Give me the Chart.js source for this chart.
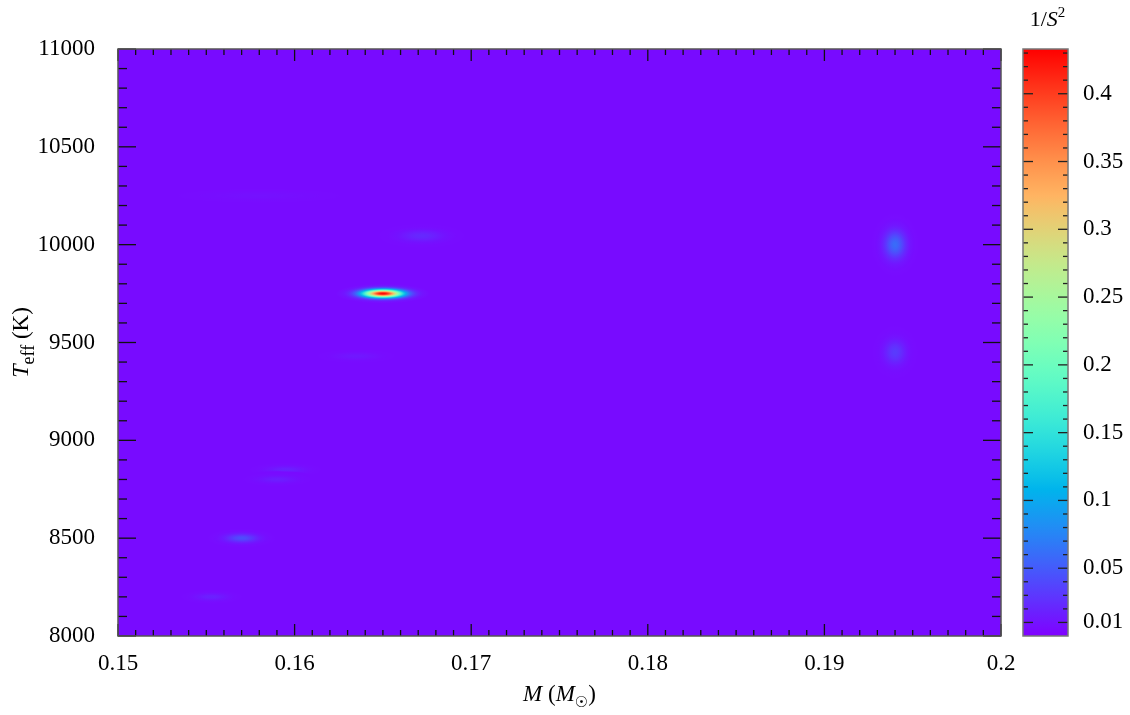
<!DOCTYPE html>
<html>
<head>
<meta charset="utf-8">
<script src="https://cdn.jsdelivr.net/npm/chart.js@4.4.0/dist/chart.umd.min.js"></script>
<style>
html,body{margin:0;padding:0;background:#fff;}
#wrap{position:relative;width:1130px;height:715px;overflow:hidden;}
#main{position:absolute;left:0;top:0;}
#bar{position:absolute;left:1005px;top:0;}
</style>
</head>
<body>
<div id="wrap">
  <canvas id="main" width="1130" height="715"></canvas>
  <canvas id="bar" width="125" height="715"></canvas>
</div>
<script>
// ticks
var xTicks=[0.15,0.16,0.17,0.18,0.19,0.2];
var xTickLabels=['0.15','0.16','0.17','0.18','0.19','0.2'];
var yTicks=[8000,8500,9000,9500,10000,10500,11000];
var yTickLabels=['8000','8500','9000','9500','10000','10500','11000'];
var cbTicks=[0.01,0.05,0.1,0.15,0.2,0.25,0.3,0.35,0.4];
var cbTickLabels=['0.01','0.05','0.1','0.15','0.2','0.25','0.3','0.35','0.4'];

// features of the 1/S^2 map: centre (M, Teff), peak, spread
var blobM =[0.165, 0.1672,0.194, 0.194, 0.157, 0.1595,0.159, 0.1553,0.1635,0.158];
var blobT =[9750,  10045, 10000, 9450,  8500,  8850,  8800,  8200,  9430,  10250];
var blobV =[0.43,  0.022, 0.06,  0.032, 0.042, 0.018, 0.016, 0.018, 0.013, 0.009];
var blobSM=[0.00075,0.0008,0.0004,0.0004,0.0006,0.0007,0.0007,0.0006,0.0008,0.002];
var blobST=[14,    20,    48,    42,    15,    12,    12,    12,    12,    15];
var baseV=0.006;   // level of the flat background
var cbMin=0, cbMax=0.433;

var serif='"Liberation Serif", "DejaVu Serif", serif';

function cmap(v){
    var x=(v-cbMin)/(cbMax-cbMin);
    x=Math.max(0,Math.min(1,x));
    var r=Math.min(1,Math.abs(2*x-0.5)), g=Math.sin(Math.PI*x), b=Math.cos(Math.PI*x/2);
    return 'rgb('+Math.round(r*255)+','+Math.round(g*255)+','+Math.round(b*255)+')';
}

function line(ctx,x1,y1,x2,y2){
    ctx.beginPath(); ctx.moveTo(x1,y1); ctx.lineTo(x2,y2); ctx.stroke();
}

// draws [text, font, dy] pieces centred on x
function runs(ctx,parts,x,y){
    var w=0;
    parts.forEach(function(p){ctx.font=p[1]; w+=ctx.measureText(p[0]).width;});
    var cx=x-w/2;
    ctx.textAlign='left'; ctx.textBaseline='alphabetic'; ctx.fillStyle='#000';
    parts.forEach(function(p){
        ctx.font=p[1]; ctx.fillText(p[0],cx,y+p[2]); cx+=ctx.measureText(p[0]).width;
    });
}

var points=[];
for(var i=0;i<blobM.length;i++){
    points.push({x:blobM[i],y:blobT[i],v:blobV[i],sm:blobSM[i],st:blobST[i]});
}

var heat={id:'heat',beforeDatasetsDraw:function(c){
    var ctx=c.ctx, a=c.chartArea, xs=c.scales.x, ys=c.scales.y;
    ctx.save();
    ctx.beginPath(); ctx.rect(a.left,a.top,a.right-a.left,a.bottom-a.top); ctx.clip();
    ctx.fillStyle=cmap(baseV);
    ctx.fillRect(a.left,a.top,a.right-a.left,a.bottom-a.top);
    c.data.datasets[0].data.forEach(function(p){
        var cx=xs.getPixelForValue(p.x), cy=ys.getPixelForValue(p.y);
        var rx=Math.abs(xs.getPixelForValue(p.x+3.5*p.sm)-cx);
        var ry=Math.abs(ys.getPixelForValue(p.y+3.5*p.st)-cy);
        ctx.save();
        ctx.translate(cx,cy); ctx.scale(rx,ry);
        var g=ctx.createRadialGradient(0,0,0,0,0,1);
        for(var k=0;k<=24;k++){
            var t=k/24, r=t*3.5;
            g.addColorStop(t,cmap(baseV+(p.v-baseV)*Math.exp(-r*r/2)));
        }
        ctx.fillStyle=g;
        ctx.beginPath(); ctx.arc(0,0,1,0,2*Math.PI); ctx.fill();
        ctx.restore();
    });
    ctx.restore();
}};

var frame={id:'frame',afterDraw:function(c){
    var ctx=c.ctx, a=c.chartArea, xs=c.scales.x, ys=c.scales.y;
    ctx.save();
    ctx.strokeStyle='#111'; ctx.lineWidth=1.3;
    for(var m=150;m<=200;m++){
        var px=xs.getPixelForValue(m/1000), L=(m%10===0)?12:6;
        line(ctx,px,a.bottom,px,a.bottom-L);
        line(ctx,px,a.top,px,a.top+L);
    }
    for(var t=8000;t<=11000;t+=100){
        var py=ys.getPixelForValue(t), L2=(t%500===0)?18:9;
        line(ctx,a.left,py,a.left+L2,py);
        line(ctx,a.right,py,a.right-L2,py);
    }
    ctx.strokeStyle='#555'; ctx.lineWidth=1.5;
    ctx.strokeRect(a.left,a.top,a.right-a.left,a.bottom-a.top);
    // axis titles
    var mid=(a.left+a.right)/2;
    runs(ctx,[['M','italic 23px '+serif,0],[' (','23px '+serif,0],['M','italic 23px '+serif,0],
              ['\u2609','15px "DejaVu Sans"',6],[')','23px '+serif,0]],mid,701);
    ctx.translate(28,(a.top+a.bottom)/2);
    ctx.rotate(-Math.PI/2);
    runs(ctx,[['T','italic 24px '+serif,0],['eff','18px '+serif,6],[' (K)','23px '+serif,0]],0,0);
    ctx.restore();
}};

new Chart(document.getElementById('main'),{
    type:'scatter',
    data:{datasets:[{data:points,pointRadius:0,pointHoverRadius:0,showLine:false}]},
    options:{
        responsive:false,animation:false,devicePixelRatio:1,
        layout:{padding:{left:0,top:49,right:129,bottom:0}},
        plugins:{legend:{display:false},tooltip:{enabled:false}},
        scales:{
            x:{type:'linear',min:0.15,max:0.2,
               afterBuildTicks:function(s){s.ticks=xTicks.map(function(v){return {value:v};});},
               afterFit:function(s){s.height=79;},
               grid:{display:false},border:{display:false},
               ticks:{autoSkip:false,maxRotation:0,minRotation:0,padding:6,color:'#000',
                      font:{family:serif,size:23},
                      callback:function(v,i){return xTickLabels[i];}}},
            y:{type:'linear',min:8000,max:11000,
               afterBuildTicks:function(s){s.ticks=yTicks.map(function(v){return {value:v};});},
               afterFit:function(s){s.width=118;},
               grid:{display:false},border:{display:false},
               ticks:{autoSkip:false,padding:15,color:'#000',
                      font:{family:serif,size:23},
                      callback:function(v,i){return yTickLabels[i];}}}
        }
    },
    plugins:[heat,frame]
});

var cbPaint={id:'cbPaint',beforeDatasetsDraw:function(c){
    var ctx=c.ctx, a=c.chartArea, ys=c.scales.y;
    var g=ctx.createLinearGradient(0,a.bottom,0,a.top);
    for(var k=0;k<=48;k++){
        var t=k/48;
        g.addColorStop(t,cmap(ys.getValueForPixel(a.bottom-t*(a.bottom-a.top))));
    }
    ctx.save();
    ctx.fillStyle=g;
    ctx.fillRect(a.left,a.top,a.right-a.left,a.bottom-a.top);
    ctx.restore();
},afterDraw:function(c){
    var ctx=c.ctx, a=c.chartArea, ys=c.scales.y;
    ctx.save();
    ctx.strokeStyle='#222'; ctx.lineWidth=1.3;
    for(var k=1;k<=43;k++){
        var v=k/100, py=ys.getPixelForValue(v);
        var major=cbTicks.some(function(t){return Math.abs(t-v)<1e-9;});
        var L=major?10:5;
        line(ctx,a.left,py,a.left+L,py);
        line(ctx,a.right,py,a.right-L,py);
    }
    ctx.strokeStyle='#777'; ctx.lineWidth=1.5;
    ctx.strokeRect(a.left,a.top,a.right-a.left,a.bottom-a.top);
    runs(ctx,[['1/','22px '+serif,0],['S','italic 22px '+serif,0],['2','15px '+serif,-9]],
         (a.left+a.right)/2+2,26);
    ctx.restore();
}};

new Chart(document.getElementById('bar'),{
    type:'scatter',
    data:{datasets:[{data:[],pointRadius:0}]},
    options:{
        responsive:false,animation:false,devicePixelRatio:1,
        layout:{padding:{left:18,top:49,right:0,bottom:79}},
        plugins:{legend:{display:false},tooltip:{enabled:false}},
        scales:{
            x:{display:false,min:0,max:1},
            y:{type:'linear',position:'right',min:cbMin,max:cbMax,
               afterBuildTicks:function(s){s.ticks=cbTicks.map(function(v){return {value:v};});},
               afterFit:function(s){s.width=62;},
               grid:{display:false},border:{display:false},
               ticks:{autoSkip:false,padding:7,color:'#000',
                      font:{family:serif,size:23},
                      callback:function(v,i){return cbTickLabels[i];}}}
        }
    },
    plugins:[cbPaint]
});
</script>
</body>
</html>
